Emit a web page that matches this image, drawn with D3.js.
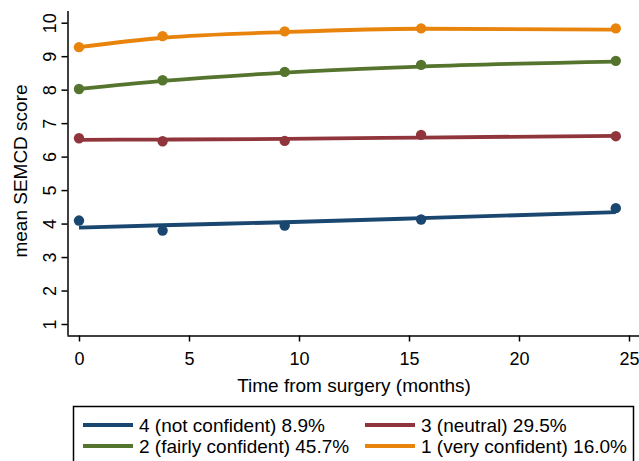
<!DOCTYPE html>
<html><head><meta charset="utf-8">
<script src="https://cdn.jsdelivr.net/npm/d3@7"></script>
<style>body{margin:0;background:#fff}svg{display:block;font-family:"Liberation Sans",Arial,sans-serif}</style>
</head><body><svg id="c" width="639" height="461"></svg>
<script>
const times = [0, 3.8, 9.35, 15.55, 24.4];
const seriesNames = ["4 (not confident) 8.9%", "3 (neutral) 29.5%", "2 (fairly confident) 45.7%", "1 (very confident) 16.0%"];
const seriesColors = ["#1a476f", "#90353b", "#55752f", "#e8830c"];
const observed4 = [4.09, 3.79, 3.94, 4.12, 4.46];
const observed3 = [6.55, 6.46, 6.47, 6.65, 6.61];
const observed2 = [8.02, 8.28, 8.53, 8.74, 8.86];
const observed1 = [9.27, 9.60, 9.74, 9.83, 9.83];
const fitted4 = [3.88, 3.95, 4.04, 4.16, 4.34];
const fitted3 = [6.50, 6.51, 6.53, 6.57, 6.62];
const fitted2 = [8.02, 8.26, 8.51, 8.69, 8.84];
const fitted1 = [9.27, 9.55, 9.72, 9.82, 9.79];
const xTicks = [0, 5, 10, 15, 20, 25];
const yTicks = [1, 2, 3, 4, 5, 6, 7, 8, 9, 10];

const observed = [observed4, observed3, observed2, observed1];
const fitted = [fitted4, fitted3, fitted2, fitted1];

const svg = d3.select("#c");
const x = d3.scaleLinear().domain([0, 25]).range([79, 629]);
const y = d3.scaleLinear().domain([1, 10]).range([324, 22.7]);
const axisY = 335.5, axisX = 67.5;
const FF = "Liberation Sans, Arial, sans-serif";

// axes
const gx = svg.append("g").attr("transform", `translate(0,${axisY})`)
  .call(d3.axisBottom(x).tickValues(xTicks).tickSize(6).tickPadding(11));
gx.select(".domain").attr("d", `M${axisX},0.5H639`);
gx.selectAll("text").attr("font-size", 18).attr("fill", "#000").attr("font-family", FF);
gx.selectAll("line,path").attr("stroke", "#000").attr("stroke-width", 1.5);

const gy = svg.append("g").attr("transform", `translate(${axisX},0)`)
  .call(d3.axisLeft(y).tickValues(yTicks).tickSize(6).tickPadding(4));
gy.select(".domain").attr("d", `M0.5,${axisY}V11`);
gy.selectAll("line,path").attr("stroke", "#000").attr("stroke-width", 1.5);
gy.selectAll(".tick text").attr("font-size", 18).attr("fill", "#000")
  .attr("font-family", FF)
  .attr("text-anchor", "middle").attr("dy", null).attr("x", null)
  .attr("transform", "translate(-18,0) rotate(-90)").attr("dominant-baseline", "central");

svg.append("text").attr("transform", "translate(20,171) rotate(-90)")
  .attr("text-anchor", "middle").attr("dominant-baseline", "central")
  .attr("font-size", 19).text("mean SEMCD score");
svg.append("text").attr("x", 354).attr("y", 385).attr("text-anchor", "middle")
  .attr("dominant-baseline", "central").attr("font-size", 19).text("Time from surgery (months)");

// series
const line = d3.line().x((d, i) => x(times[i])).y(d => y(d)).curve(d3.curveMonotoneX);
fitted.forEach((vals, s) => {
  svg.append("path").attr("d", line(vals)).attr("fill", "none")
    .attr("stroke", seriesColors[s]).attr("stroke-width", 3.8);
});
observed.forEach((vals, s) => {
  svg.append("g").selectAll("circle").data(vals).join("circle")
    .attr("cx", (d, i) => x(times[i])).attr("cy", d => y(d)).attr("r", 5.2)
    .attr("fill", seriesColors[s]);
});

// legend
svg.append("rect").attr("x", 73.5).attr("y", 406.5).attr("width", 560).attr("height", 70)
  .attr("fill", "none").attr("stroke", "#000").attr("stroke-width", 1.5);
const legPos = [[83, 425], [365, 425], [83, 446], [365, 446]];
seriesNames.forEach((name, s) => {
  const [lx, ly] = legPos[s];
  svg.append("line").attr("x1", lx).attr("x2", lx + 50).attr("y1", ly).attr("y2", ly)
    .attr("stroke", seriesColors[s]).attr("stroke-width", 3.8);
  svg.append("text").attr("x", lx + 56).attr("y", ly).attr("dominant-baseline", "central")
    .attr("font-size", 19).text(name);
});
</script></body></html>
